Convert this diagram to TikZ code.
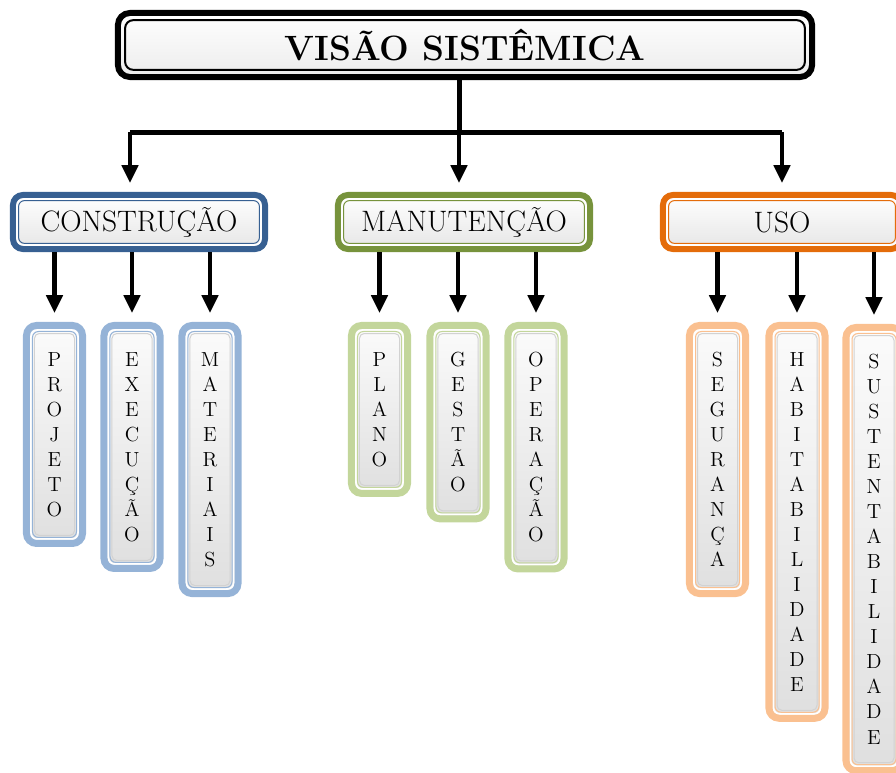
\documentclass[tikz,border=0pt]{standalone}
\usepackage{fontspec}
\usetikzlibrary{arrows.meta}

\definecolor{azulesc}{HTML}{376092}
\definecolor{azulcla}{HTML}{95B3D7}
\definecolor{verdeesc}{HTML}{77933C}
\definecolor{verdecla}{HTML}{C3D69B}
\definecolor{laranjaesc}{HTML}{E46C0A}
\definecolor{laranjacla}{HTML}{FAC090}

\tikzset{
  titulo/.style={draw=black, line width=0.15cm, rounded corners=0.3cm,
    top color=white, bottom color=gray!15,
    minimum width=17.35cm, minimum height=1.6cm,
    font=\fontsize{25}{30}\selectfont\bfseries,
    path picture={\draw[black, line width=0.05cm, rounded corners=0.2cm]
      ([shift={(0.18cm,-0.18cm)}]path picture bounding box.north west) rectangle
      ([shift={(-0.18cm,0.18cm)}]path picture bounding box.south east);}},
  grupo/.style={draw=#1, line width=0.15cm, rounded corners=0.25cm,
    top color=white, bottom color=gray!20,
    minimum width=6.3cm, minimum height=1.35cm,
    font=\fontsize{21}{24}\selectfont,
    path picture={\draw[white, line width=0.05cm, rounded corners=0.15cm]
      ([shift={(0.1cm,-0.1cm)}]path picture bounding box.north west) rectangle
      ([shift={(-0.1cm,0.1cm)}]path picture bounding box.south east);
      \draw[#1, line width=0.025cm, rounded corners=0.15cm]
      ([shift={(0.14cm,-0.14cm)}]path picture bounding box.north west) rectangle
      ([shift={(-0.14cm,0.14cm)}]path picture bounding box.south east);}},
  folha/.style={draw=#1, line width=0.175cm, rounded corners=0.25cm,
    top color=gray!3, bottom color=gray!25,
    minimum width=1.4cm, inner ysep=19pt, anchor=north, align=center,
    font=\fontsize{14.5}{17.8}\selectfont,
    path picture={\draw[white, line width=0.05cm, rounded corners=0.15cm]
      ([shift={(0.11cm,-0.11cm)}]path picture bounding box.north west) rectangle
      ([shift={(-0.11cm,0.11cm)}]path picture bounding box.south east);
      \draw[#1, line width=0.025cm, rounded corners=0.15cm]
      ([shift={(0.15cm,-0.15cm)}]path picture bounding box.north west) rectangle
      ([shift={(-0.15cm,0.15cm)}]path picture bounding box.south east);
      \draw[gray!35, line width=0.025cm, rounded corners=0.12cm]
      ([shift={(0.2cm,-0.2cm)}]path picture bounding box.north west) rectangle
      ([shift={(-0.2cm,0.2cm)}]path picture bounding box.south east);}},
  linha/.style={line width=0.125cm},
  seta/.style={line width=0.12cm, shorten >=0.22cm,
    -{Triangle[width=0.4cm,length=0.45cm]}},
}

\begin{document}
\begin{tikzpicture}[x=0.025cm, y=-0.025cm]
  \useasboundingbox (0,0) rectangle (896,773);

  % Nós
  \node[titulo] (visao) at (465,45) {VISÃO SISTÊMICA};

  \node[grupo=azulesc] (constr) at (139,222) {CONSTRUÇÃO};
  \node[grupo=verdeesc] (manut) at (464,222) {MANUTENÇÃO};
  \node[grupo=laranjaesc, minimum width=5.95cm] (uso) at (782,222) {USO};

  \node[folha=azulcla] (projeto) at (54.5,322) {P\\R\\O\\J\\E\\T\\O};
  \node[folha=azulcla] (execucao) at (132,322) {E\\X\\E\\C\\U\\Ç\\Ã\\O};
  \node[folha=azulcla] (materiais) at (210,322) {M\\A\\T\\E\\R\\I\\A\\I\\S};

  \node[folha=verdecla] (plano) at (379.5,322) {P\\L\\A\\N\\O};
  \node[folha=verdecla] (gestao) at (458,322) {G\\E\\S\\T\\Ã\\O};
  \node[folha=verdecla] (operacao) at (536,322) {O\\P\\E\\R\\A\\Ç\\Ã\\O};

  \node[folha=laranjacla] (seguranca) at (717.5,322) {S\\E\\G\\U\\R\\A\\N\\Ç\\A};
  \node[folha=laranjacla] (habit) at (797,322) {H\\A\\B\\I\\T\\A\\B\\I\\L\\I\\D\\A\\D\\E};
  \node[folha=laranjacla] (sustent) at (874,324) {S\\U\\S\\T\\E\\N\\T\\A\\B\\I\\L\\I\\D\\A\\D\\E};

  % Ligações
  \path (visao.south) ++(-6,52) coordinate (hub);
  \draw[linha] (visao.south -| hub) -- (hub);
  \draw[linha] ([xshift=-0.225cm]hub -| constr.north) -- (hub -| uso.north);
  \draw[seta] ([xshift=-0.225cm]hub -| constr.north) -- ([xshift=-0.225cm]constr.north);
  \draw[seta] (hub) -- (hub |- manut.north);
  \draw[seta] (hub -| uso.north) -- (uso.north);

  \foreach \f in {projeto, execucao, materiais}
    \draw[seta] (\f.north |- constr.south) -- (\f.north);
  \foreach \f in {plano, gestao, operacao}
    \draw[seta] (\f.north |- manut.south) -- (\f.north);
  \foreach \f in {seguranca, habit, sustent}
    \draw[seta] (\f.north |- uso.south) -- (\f.north);
\end{tikzpicture}
\end{document}
